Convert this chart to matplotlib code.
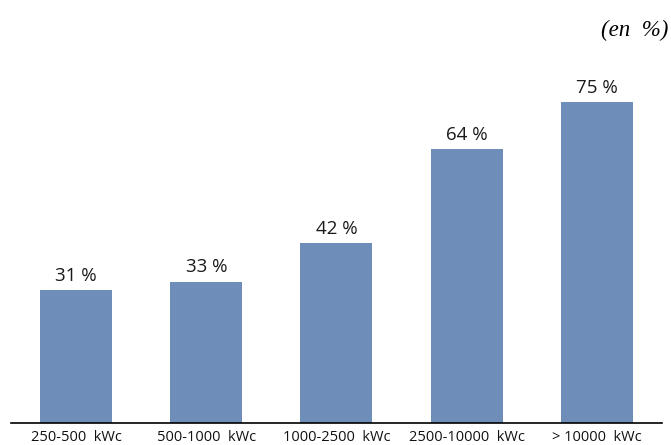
import matplotlib
matplotlib.use("Agg")
from matplotlib import pyplot as plt

# data
categories = ["250-500  kWc", "500-1000  kWc", "1000-2500  kWc", "2500-10000  kWc", "> 10000  kWc"]
values = [31, 33, 42, 64, 75]
labels = ["31 %", "33 %", "42 %", "64 %", "75 %"]

fig = plt.figure(figsize=(6.71, 4.45), dpi=100)
ax = fig.add_axes([0.0164, 0.0494, 0.970, 0.769])

x = range(len(categories))
ax.bar(x, values, width=0.554, color="#6E8DB9")
for i, (v, lab) in enumerate(zip(values, labels)):
    ax.annotate(lab, (i, v), xytext=(0, 4), textcoords="offset points",
                ha="center", va="bottom", fontsize=13.5, family="Open Sans", color="#1a1a1a")

ax.set_xlim(-0.5, len(categories) - 0.5)
ax.set_ylim(0, 80)
ax.set_xticks(list(x))
ax.set_xticklabels(categories, fontsize=10.5, family="Open Sans", color="#111111")
ax.tick_params(axis="x", length=0, pad=5)
ax.set_yticks([])
for s in ["top", "right", "left"]:
    ax.spines[s].set_visible(False)
ax.spines["bottom"].set_linewidth(1.2)

fig.text(0.996, 0.932, "(en  %)", ha="right", va="center", fontsize=16.5,
         style="italic", family="Liberation Serif")

fig.savefig("out.png", dpi=100)
